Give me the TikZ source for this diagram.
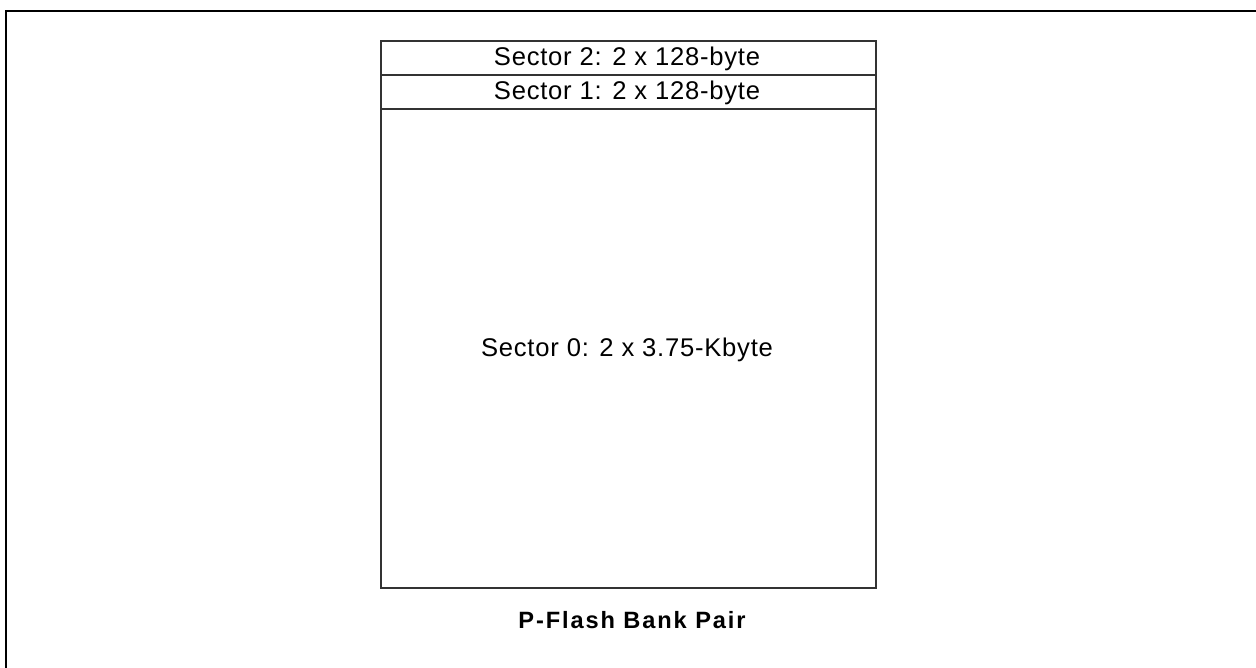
\documentclass[tikz,border=0pt]{standalone}
\usepackage{fontspec}
\setmainfont{Liberation Sans}
\newfontfamily\secfont[LetterSpace=3]{Liberation Sans}
\newfontfamily\capfont[LetterSpace=8]{Liberation Sans}
\begin{document}
\begin{tikzpicture}[x=0.5pt,y=-0.5pt,
  frameline/.style={line width=1pt,black},
  cell/.style={draw=black!80,line width=0.6pt},
  celltext/.style={font=\secfont\fontsize{12.8}{14}\selectfont,inner sep=0pt,anchor=center},
  captext/.style={font=\capfont\bfseries\fontsize{11.8}{13}\selectfont,inner sep=0pt,anchor=center}]
\useasboundingbox (0,0) rectangle (1256,668);
% outer partial frame
\coordinate (ftr) at (1256,11);
\coordinate (ftl) at (6,11);
\coordinate (fbl) at (6,668);
\draw[frameline] (ftr) -- (ftl) -- (fbl);
% sectors
\draw[cell] (381,41) rectangle (876,75) node[midway] (s2) {};
\draw[cell] (381,75) rectangle (876,109) node[midway] (s1) {};
\draw[cell] (381,109) rectangle (876,588) node[midway] (s0) {};
\node[celltext] (t2) at (627,58.5) {Sector 2: 2 x 128-byte};
\node[celltext] (t1) at (627,92.5) {Sector 1: 2 x 128-byte};
\node[celltext] (t0) at (627,350) {Sector 0: 2 x 3.75-Kbyte};
\node[captext] (cap) at (632,620) {P-Flash Bank Pair};
\end{tikzpicture}
\end{document}
